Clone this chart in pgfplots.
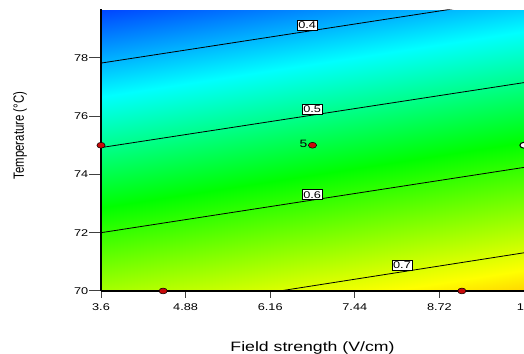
\documentclass[border=0pt]{standalone}
\usepackage{fontspec}
\setmainfont{Liberation Sans}[FakeStretch=1.3]
\newfontfamily\plainsans{Liberation Sans}
\usepackage{graphicx}
\usepackage{pgfplots}
\usepackage{pgfplotstable}
\pgfplotsset{compat=1.18}

\pgfplotstableread{
x y f
3.6 70 0.6678
10 70 0.7443
3.6 79.66 0.3370
10 79.66 0.4135
}\surfdata

\definecolor{dotred}{RGB}{200,10,10}

\begin{document}
\begin{tikzpicture}[lbl/.style={draw=black, fill=white, line width=0.5pt, inner xsep=0.8pt, inner ysep=1pt, text height=5.3pt, text depth=0pt, font=\fontsize{7.35}{8}\selectfont}]
\begin{axis}[
  at={(0,0)}, anchor=south west,
  scale only axis, width=317.25pt, height=211.1pt,
  view={0}{90},
  xmin=3.6, xmax=10, ymin=70, ymax=79.66,
  xtick={3.6,4.88,6.16,7.44,8.72,10},
  xticklabels={3.6,4.88,6.16,7.44,8.72,10},
  ytick={70,72,74,76,78},
  ztick=\empty,
  axis lines*=left,
  axis line style={black, line width=1.2pt},
  tick align=outside,
  major tick length=6pt,
  tick style={black!75, line width=0.7pt},
  xtick style={/pgfplots/major tick length=5.25pt},
  ytick style={/pgfplots/major tick length=8.75pt},
  colormap={dx}{rgb255(0cm)=(0,0,255) rgb255(14cm)=(0,255,255) rgb255(27cm)=(0,255,0) rgb255(42cm)=(255,255,0) rgb255(57cm)=(255,0,0)},
  point meta min=0.30, point meta max=0.87,
  tick label style={font=\fontsize{7.35}{8}\selectfont},
  /pgf/number format/assume math mode=true,
  xlabel={Field strength (V/cm)},
  xlabel style={at={(axis description cs:0.5,-0.2009)}, anchor=center, font=\fontsize{10.2}{12}\selectfont},
  ylabel={\scalebox{1}[1.3]{\plainsans\fontsize{8.55}{10}\selectfont Temperature (°C)}},
  ylabel style={at={(axis description cs:-0.1915,0.5524)}, anchor=center},
]
\addplot3[surf, shader=interp, mesh/cols=2, mesh/rows=2, point meta=\thisrow{f}] table[x=x, y=y, z=f] {\surfdata};

\addplot3[black, line width=0.6pt] coordinates {(3.6,77.82,1) (10,80.054,1)};
\addplot3[black, line width=0.6pt] coordinates {(3.6,74.92,1) (10,77.15,1)};
\addplot3[black, line width=0.6pt] coordinates {(3.6,72.00,1) (10,74.24,1)};
\addplot3[black, line width=0.6pt] coordinates {(6.305,70,1) (10,71.31,1)};

\node[lbl] at (axis cs:6.72,79.125,1) {0.4};
\node[lbl] at (axis cs:6.795,76.24,1) {0.5};
\node[lbl] at (axis cs:6.795,73.31,1) {0.6};
\node[lbl] at (axis cs:8.154,70.875,1) {0.7};

\addplot3[only marks, mark=*, mark size=2.2pt, mark options={xscale=1.4, fill=dotred, draw=black, line width=0.4pt}] coordinates {(3.6,75,1) (6.8,75,1) (4.54,70,1) (9.06,70,1)};
\addplot3[only marks, mark=*, mark size=2.2pt, mark options={xscale=1.4, fill=white, draw=black, line width=0.8pt}] coordinates {(10,75,1)};

\node[anchor=east, inner sep=0pt, xshift=-3.6pt, yshift=0.8pt, font=\fontsize{8}{9}\selectfont] at (axis cs:6.8,75,1) {5};
\end{axis}
\pgfresetboundingbox
\useasboundingbox (-75.75pt,-47.25pt) rectangle (317.25pt,218.225pt);
\end{tikzpicture}
\end{document}
